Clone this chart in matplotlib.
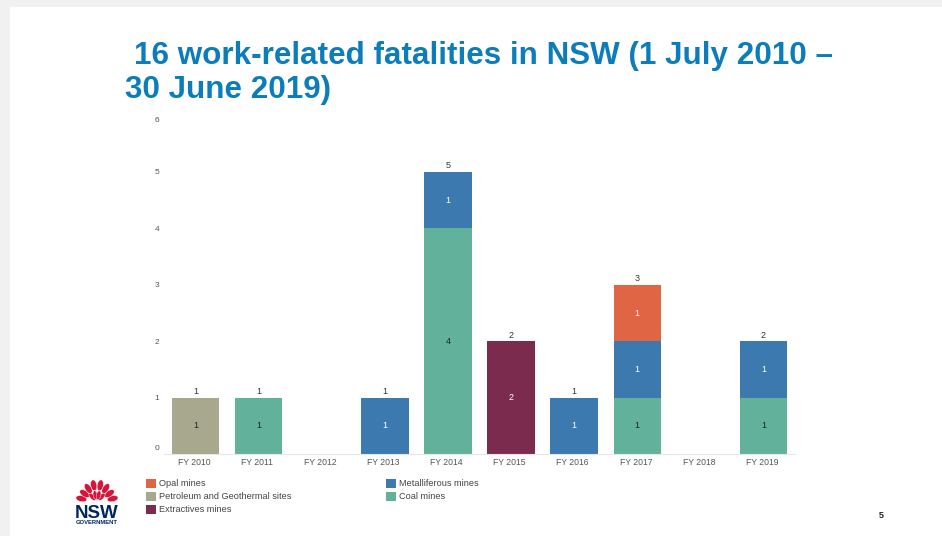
#!/usr/bin/env python3
"""NSW work-related fatalities slide, stacked bars by mine type."""

import numpy as np
import matplotlib
matplotlib.use('Agg')
import matplotlib.pyplot as plt
from matplotlib.patches import Rectangle, Ellipse
from matplotlib.transforms import ScaledTranslation

plt.rcParams['font.family'] = ['Liberation Sans', 'DejaVu Sans']

W, H = 942, 536

years = ['FY 2010', 'FY 2011', 'FY 2012', 'FY 2013', 'FY 2014',
         'FY 2015', 'FY 2016', 'FY 2017', 'FY 2018', 'FY 2019']
petroleum = [1, 0, 0, 0, 0, 0, 0, 0, 0, 0]
coal = [0, 1, 0, 0, 4, 0, 0, 1, 0, 1]
extractives = [0, 0, 0, 0, 0, 2, 0, 0, 0, 0]
metalliferous = [0, 0, 0, 1, 1, 0, 1, 1, 0, 1]
opal = [0, 0, 0, 0, 0, 0, 0, 1, 0, 0]
y_ticks = [0, 1, 2, 3, 4, 5, 6]

# stacking order, bottom first: name, values, colour, value label colour
series = [
    ('Petroleum and Geothermal sites', petroleum, '#a7a88d', '#222222'),
    ('Coal mines', coal, '#62b29b', '#222222'),
    ('Extractives mines', extractives, '#7a2b4e', 'white'),
    ('Metalliferous mines', metalliferous, '#3c79ae', 'white'),
    ('Opal mines', opal, '#df6545', 'white'),
]
colors = {name: c for name, _, c, _ in series}

fig = plt.figure(figsize=(W / 100, H / 100), dpi=100, facecolor='white')

# slide background and all non-chart furniture, in pixel coordinates
bg = fig.add_axes([0, 0, 1, 1])
bg.set_xlim(0, W)
bg.set_ylim(H, 0)
bg.axis('off')
bg.add_patch(Rectangle((0, 0), W, H, color='#f1f1f1', lw=0))
bg.add_patch(Rectangle((10, 7), W - 10, H - 7, color='white', lw=0))

title_color = '#0b7dbb'
bg.text(134, 56, '16 work-related fatalities in NSW (1 July 2010 \u2013',
        fontsize=22.6, fontweight='bold', color=title_color, va='center')
bg.text(125, 90, '30 June 2019)',
        fontsize=22.6, fontweight='bold', color=title_color, va='center')
bg.text(881, 515, '5', fontsize=6.5, fontweight='bold', color='#222222',
        ha='center', va='center')

# legend laid out by hand, two columns like the slide
legend_items = [('Opal mines', 146, 483), ('Petroleum and Geothermal sites', 146, 496),
                ('Extractives mines', 146, 509), ('Metalliferous mines', 386, 483),
                ('Coal mines', 386, 496)]
for name, lx, ly in legend_items:
    bg.add_patch(Rectangle((lx, ly - 4.5), 9.5, 9.5, color=colors[name], lw=0))
    bg.text(lx + 13, ly + 0.3, name, fontsize=6.6, color='#444444', va='center')

# NSW waratah logo: fans of petals around the flower base
base_x, base_y = 97, 502
petals = [(-78, 6, 11, 16), (78, 6, 11, 16), (-56, 6, 11, 15), (56, 6, 11, 15),
          (-33, 6, 11, 16), (33, 6, 11, 16), (-11, 6, 11, 17), (11, 6, 11, 17),
          (-42, 4.5, 9, 7), (42, 4.5, 9, 7), (-13, 4.5, 9, 7), (13, 4.5, 9, 7)]
for ang, pw, ph, r in petals:
    t = np.radians(ang)
    bg.add_patch(Ellipse((base_x + r * np.sin(t), base_y - r * np.cos(t)), pw, ph,
                         angle=ang, facecolor='#d7153a', edgecolor='white', lw=0.3))
bg.text(96.5, 513, 'NSW', fontsize=13.5, fontweight='bold', color='#002664',
        ha='center', va='center')
bg.text(96.5, 523, 'GOVERNMENT', fontsize=4.2, fontweight='bold', color='#002664',
        ha='center', va='center')

# chart area: y=0 at pixel 454, 56.4 px per unit
x0, x1, ytop, ybot = 164, 795, 115.6, 454
ax = fig.add_axes([x0 / W, 1 - ybot / H, (x1 - x0) / W, (ybot - ytop) / H])
ax.patch.set_alpha(0)

x = np.arange(len(years))
bottom = np.zeros(len(years))
for name, vals, color, txt_color in series:
    vals = np.array(vals)
    ax.bar(x, vals, 0.75, bottom=bottom, color=color, linewidth=0)
    for xi, v, b in zip(x, vals, bottom):
        if v > 0:
            ax.text(xi, b + v / 2, str(v), ha='center', va='center',
                    fontsize=6.5, color=txt_color)
    bottom += vals

totals = bottom
for xi, t in zip(x, totals):
    if t > 0:
        ax.text(xi, t + 0.03, str(int(t)), ha='center', va='bottom',
                fontsize=6.5, color='#333333')

ax.set_xlim(-0.5, len(years) - 0.5)
ax.set_ylim(0, 6)
ax.set_xticks(x)
ax.set_xticklabels(years, fontsize=6.2, color='#555555')
ax.set_yticks(y_ticks)
ax.set_yticklabels([str(v) for v in y_ticks], fontsize=6, color='#555555')
ax.tick_params(axis='x', length=0, pad=3)
ax.tick_params(axis='y', length=0, pad=3.5)
for s in ['top', 'right', 'left']:
    ax.spines[s].set_visible(False)
ax.spines['bottom'].set_color('#e6e6e6')
ax.spines['bottom'].set_linewidth(0.8)

# the slide's tick labels sit a little off their ticks
for lab in ax.get_xticklabels():
    lab.set_transform(lab.get_transform() + ScaledTranslation(-1.5 / 100, 0, fig.dpi_scale_trans))
ylabs = ax.get_yticklabels()
ylabs[0].set_transform(ylabs[0].get_transform() + ScaledTranslation(0, 7 / 100, fig.dpi_scale_trans))
ylabs[6].set_transform(ylabs[6].get_transform() + ScaledTranslation(0, -4 / 100, fig.dpi_scale_trans))

fig.savefig('out.png', dpi=100)
plt.close()
